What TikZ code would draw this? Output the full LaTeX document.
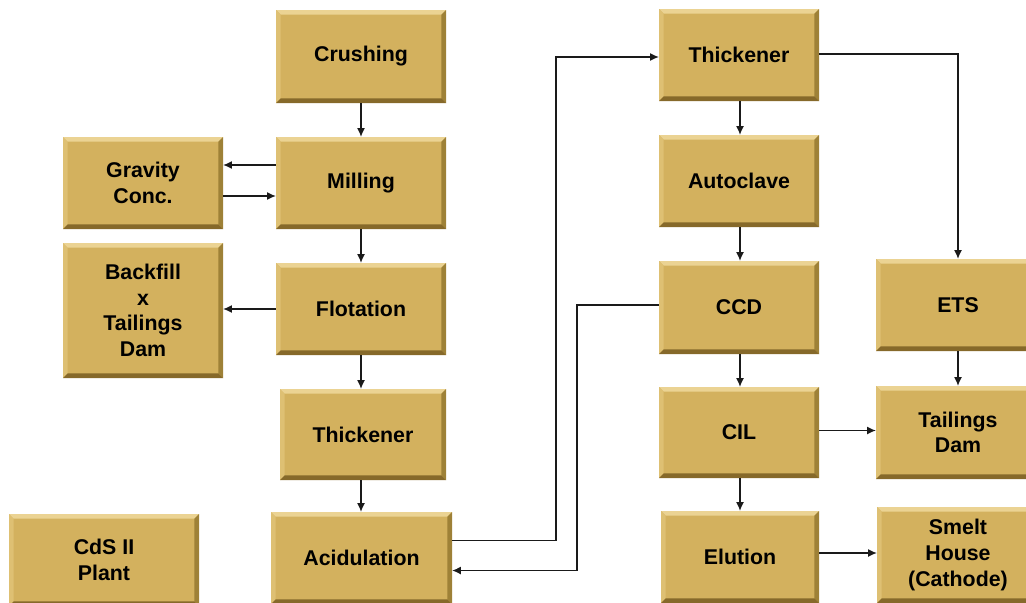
\documentclass[tikz,border=0pt]{standalone}
\usepackage{fontspec}
\setmainfont{Liberation Sans}
\usetikzlibrary{arrows.meta,calc}
\definecolor{gface}{HTML}{D3B15E}
\definecolor{gtop}{HTML}{EBD393}
\definecolor{gleft}{HTML}{DEC073}
\definecolor{gright}{HTML}{9E8137}
\definecolor{gbot}{HTML}{86692A}
\definecolor{lnc}{HTML}{1A1A1A}
\tikzset{
  box/.style 2 args={fill=gface, draw=none, minimum width=#1*0.75pt, minimum height=#2*0.75pt,
    inner sep=0pt, align=center, font=\fontsize{16}{19.2}\selectfont\bfseries,
    path picture={
      \coordinate (pnw) at (path picture bounding box.north west);
      \coordinate (pne) at (path picture bounding box.north east);
      \coordinate (psw) at (path picture bounding box.south west);
      \coordinate (pse) at (path picture bounding box.south east);
      \fill[gtop] (pnw) -- (pne) -- ([xshift=-3.5pt,yshift=-3.5pt]pne) -- ([xshift=3.5pt,yshift=-3.5pt]pnw) -- cycle;
      \fill[gleft] (pnw) -- (psw) -- ([xshift=3.5pt,yshift=3.5pt]psw) -- ([xshift=3.5pt,yshift=-3.5pt]pnw) -- cycle;
      \fill[gright] (pne) -- (pse) -- ([xshift=-3.5pt,yshift=3.5pt]pse) -- ([xshift=-3.5pt,yshift=-3.5pt]pne) -- cycle;
      \fill[gbot] (psw) -- (pse) -- ([xshift=-3.5pt,yshift=3.5pt]pse) -- ([xshift=3.5pt,yshift=3.5pt]psw) -- cycle;
    }},
  arr/.style={draw=lnc, line width=0.8pt, -{Latex[length=6.5pt,width=6pt]}},
  ln/.style={draw=lnc, line width=0.8pt}
}
\begin{document}
\begin{tikzpicture}[x=0.75pt,y=-0.75pt]
\useasboundingbox (0,0) rectangle (1026,603);
\clip (0,0) rectangle (1026,603);
\node[box={170}{93}] (crush) at (361,56.5) {Crushing};
\node[box={170}{92}] (mill) at (361,183) {Milling};
\node[box={170}{92}] (flot) at (361,309) {Flotation};
\node[box={166}{91}] (thk1) at (363,434.5) {Thickener};
\node[box={181}{92}] (acid) at (361.5,558) {Acidulation};
\node[box={160}{92}] (grav) at (143,183) {Gravity\\Conc.};
\node[box={160}{135}] (back) at (143,310.5) {Backfill\\x\\Tailings\\Dam};
\node[box={190}{92}] (cds) at (104,560) {CdS II\\Plant};
\node[box={160}{92}] (thk2) at (739,55) {Thickener};
\node[box={160}{92}] (auto) at (739,181) {Autoclave};
\node[box={160}{93}] (ccd) at (739,307.5) {CCD};
\node[box={160}{91}] (cil) at (739,432.5) {CIL};
\node[box={158}{92}] (elut) at (740,557) {Elution};
\node[box={164}{92}] (ets) at (958,305) {ETS};
\node[box={164}{93}] (tail) at (958,432.5) {Tailings\\Dam};
\node[box={162}{96}] (smelt) at (958,555) {Smelt\\House\\(Cathode)};

\draw[arr] (crush) -- (mill);
\draw[arr] ([yshift=13.5pt]mill.west) -- ([yshift=13.5pt]mill.west -| grav.east);
\draw[arr] ([yshift=-9.75pt]grav.east) -- ([yshift=-9.75pt]grav.east -| mill.west);
\draw[arr] (mill) -- (flot);
\draw[arr] (flot.west) -- (flot.west -| back.east);
\draw[arr] (flot.south) -- (flot.south |- thk1.north);
\draw[arr] (flot.south |- thk1.south) -- (flot.south |- acid.north);
\coordinate (k1) at (556,57);
\draw[arr] ([yshift=13pt]acid.east) -| (k1) -- (k1 -| thk2.west);
\coordinate (k2) at (577,305);
\draw[arr] (k2 -| ccd.west) -- (k2) |- ([yshift=-9.4pt]acid.east);
\coordinate (k3) at (958,54);
\draw[arr] (k3 -| thk2.east) -- (k3) -- (ets.north);
\draw[arr] (thk2.south -| elut.north) -- (auto.north -| elut.north);
\draw[arr] (auto.south -| elut.north) -- (ccd.north -| elut.north);
\draw[arr] (ccd.south -| elut.north) -- (cil.north -| elut.north);
\draw[arr] (cil.south -| elut.north) -- (elut.north);
\draw[arr] (ets) -- (tail);
\draw[arr] ([yshift=1.5pt]cil.east) -- ([yshift=1.5pt]cil.east -| tail.west);
\draw[arr] ([yshift=3pt]elut.east) -- ([yshift=3pt]elut.east -| smelt.west);
\end{tikzpicture}
\end{document}
